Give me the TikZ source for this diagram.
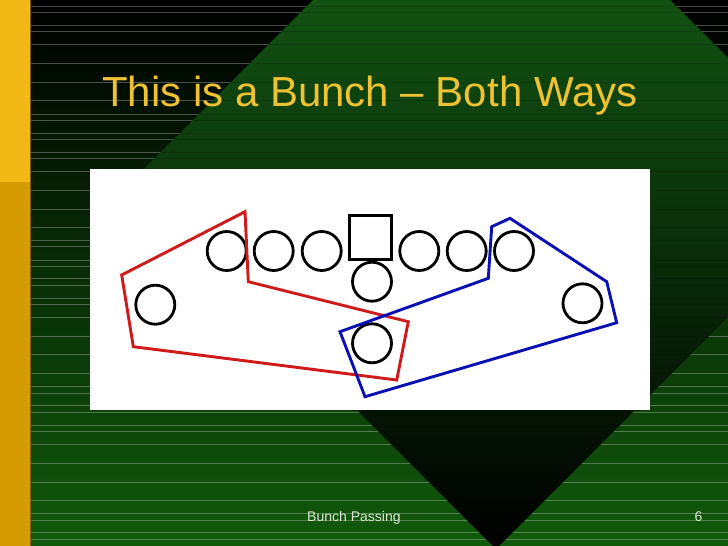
\documentclass[tikz,border=0pt]{standalone}
\usepackage{fontspec}
\setmainfont{Liberation Sans}
\definecolor{barTop}{HTML}{F2B816}
\definecolor{barBot}{HTML}{D49C00}
\definecolor{bgBot}{HTML}{115A0C}
\definecolor{dmTop}{HTML}{125212}
\definecolor{dmMid}{HTML}{062806}
\definecolor{titleY}{HTML}{EEC232}
\definecolor{footC}{HTML}{DDE6D6}
\definecolor{redL}{HTML}{D01A1A}
\definecolor{blueL}{HTML}{0A10B4}
\begin{document}
\begin{tikzpicture}[x=1pt,y=-1pt,
  player/.style={circle,draw=black,line width=2.8pt,minimum size=39pt,inner sep=0pt},
  center/.style={rectangle,draw=black,line width=2.8pt,minimum width=42pt,minimum height=43.5pt,inner sep=0pt},
  zone/.style={line width=2.9pt,line join=miter},
  stripe/.style={white,opacity=0.28,line width=1pt},
  dstripe/.style={black,opacity=0.15,line width=1pt}]
\useasboundingbox (0,0) rectangle (728,546);
% background
\shade[top color=black,bottom color=bgBot] (30,0) rectangle (728,546);
\def\stripes{6.5,12.5,25.5,31.5,44.5,63.5,82.5,100.5,114.5,120.5,133.5,139.5,152.5,158.5,171.5,190.5,209.5,227.5,240.5,246.5,260.5,266.5,278.5,285.5,298.5,304.5,317.5,336.5,354.5,373.5,386.5,393.5,405.5,412.5,425.5,431.5,444.5,463.5,482.5,500.5,513.5,520.5,532.5,539.5}
\foreach \yy in \stripes {\draw[stripe] (30,\yy) -- (728,\yy);}
\begin{scope}
\clip (491.5,-178.5) -- (857.5,187.5) -- (496,549) -- (130,183) -- cycle;
\shade[top color=dmTop,middle color=dmMid,bottom color=black] (30,0) rectangle (728,546);
\foreach \yy in \stripes {\draw[dstripe] (30,\yy) -- (728,\yy);}
\end{scope}
% left bar
\fill[barTop] (0,0) rectangle (30,182);
\fill[barBot] (0,182) rectangle (30,546);
\draw[barBot!60!black,line width=0.8pt] (30.2,0) -- (30.2,546);
% title
\node[anchor=base west,inner sep=0pt,text=titleY,font=\fontsize{42}{42}\selectfont] (title) at (102,106.7) {This is a Bunch – Both Ways};
% panel
\fill[white] (90,169) rectangle (650,409.5);
% players
\node[player] (p1) at (226.7,251) {};
\node[player] (p2) at (273.7,251) {};
\node[player] (p3) at (321.7,251) {};
\node[center] (c) at (370.5,237.5) {};
\node[player] (p5) at (419.3,251) {};
\node[player] (p6) at (466.7,251) {};
\node[player] (p7) at (514,251) {};
\node[player] (qb) at (372,281.7) {};
\node[player] (rb) at (372,343.3) {};
\node[player] (wl) at (155.3,304.7) {};
\node[player] (wr) at (582.5,303.3) {};
% zones
\draw[zone,redL] (121.7,275) -- (245,211.7) -- (248.3,281.7) -- (408.3,321.7) -- (396.7,380) -- (133.3,346.7) -- cycle;
\draw[zone,blueL] (340,331.7) -- (488.3,278.3) -- (491.7,226.7) -- (510,218.3) -- (606.7,281.7) -- (616.7,322.7) -- (365,396.7) -- cycle;
% footer
\node[anchor=base west,inner sep=0pt,text=footC,font=\fontsize{14}{14}\selectfont] (foot) at (307,521.7) {Bunch Passing};
\node[anchor=base west,inner sep=0pt,text=footC,font=\fontsize{14}{14}\selectfont] (num) at (694.5,521.7) {6};
\end{tikzpicture}
\end{document}
